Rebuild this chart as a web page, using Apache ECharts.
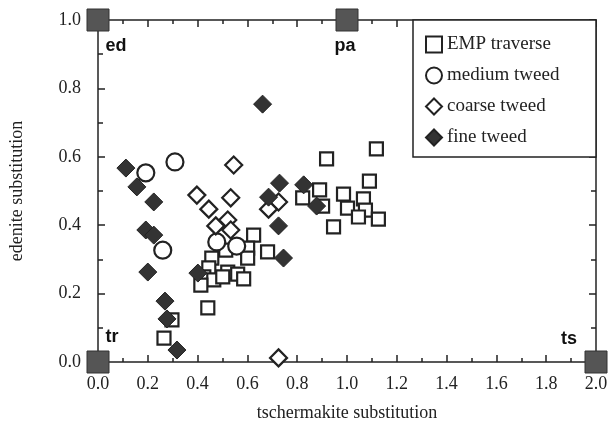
<!DOCTYPE html>
<html>
<head>
<meta charset="utf-8">
<script src="https://cdn.jsdelivr.net/npm/echarts@6/dist/echarts.min.js"></script>
<style>html,body{margin:0;padding:0;background:#fff;}#c{width:615px;height:434px;}</style>
</head>
<body>
<div id="c"></div>
<script>
const xTicks = [0.0,0.2,0.4,0.6,0.8,1.0,1.2,1.4,1.6,1.8,2.0];
const yTicks = [0.0,0.2,0.4,0.6,0.8,1.0];

const empTraverse = [
  [1.118,0.623],[0.918,0.594],[1.090,0.529],[0.890,0.503],[0.986,0.491],[1.066,0.477],
  [0.822,0.480],[0.902,0.456],[1.002,0.450],[1.074,0.444],[1.046,0.424],[1.126,0.418],[0.946,0.395],
  [0.681,0.322],[0.625,0.371],[0.601,0.333],[0.601,0.304],[0.513,0.327],[0.457,0.304],
  [0.445,0.275],[0.521,0.263],[0.561,0.257],[0.585,0.243],[0.425,0.249],[0.465,0.240],
  [0.413,0.225],[0.501,0.249],[0.441,0.158],[0.297,0.123],[0.265,0.070]
];
const mediumTweed = [
  [0.192,0.553],[0.309,0.585],[0.260,0.327],[0.477,0.351],[0.557,0.339]
];
const coarseTweed = [
  [0.545,0.576],[0.397,0.488],[0.533,0.480],[0.445,0.447],[0.473,0.398],[0.521,0.415],
  [0.533,0.386],[0.725,0.468],[0.685,0.447],[0.725,0.012]
];
const fineTweed = [
  [0.112,0.567],[0.156,0.512],[0.224,0.468],[0.192,0.386],[0.224,0.371],[0.200,0.263],
  [0.269,0.178],[0.277,0.126],[0.317,0.035],[0.401,0.260],[0.661,0.754],[0.685,0.482],
  [0.729,0.523],[0.725,0.398],[0.745,0.304],[0.826,0.518],[0.878,0.456]
];
const endMemberNames = ['ed','pa','tr','ts'];
const endMemberValues = [[0,1],[1,1],[0,0],[2,0]];

const serif = '"Liberation Serif", "DejaVu Serif", serif';
const ink = '#222';
const labelOffsets = {ed:[18,26], pa:[-2,26], tr:[14,-25], ts:[-27,-23]};

const endMembers = endMemberNames.map((n,i)=>({
  name:n, value:endMemberValues[i], label:{offset:labelOffsets[n]}
}));

const chart = echarts.init(document.getElementById('c'));
const commonAxisLine = {show:true, onZero:false, lineStyle:{color:ink, width:1.5}};
chart.setOption({
  animation:false,
  backgroundColor:'#fff',
  grid:{left:97, right:19, top:20, bottom:72, containLabel:false},
  xAxis:[{
    type:'value', min:0, max:2, interval:0.2, position:'bottom',
    axisLine:commonAxisLine,
    axisTick:{show:true, inside:true, length:7, lineStyle:{color:ink, width:1.5}},
    minorTick:{show:true, splitNumber:2, length:4, lineStyle:{color:ink, width:1.5}},
    splitLine:{show:false},
    axisLabel:{color:ink, fontFamily:serif, fontSize:18, margin:13,
      formatter:v=>{const t=xTicks.find(a=>Math.abs(a-v)<1e-6); return t===undefined?'':t.toFixed(1);}},
    name:'tschermakite substitution', nameLocation:'middle', nameGap:42,
    nameTextStyle:{color:ink, fontFamily:serif, fontSize:18}
  },{
    type:'value', min:0, max:2, interval:0.2, position:'top',
    axisLine:commonAxisLine,
    axisTick:{show:true, inside:true, length:7, lineStyle:{color:ink, width:1.5}},
    minorTick:{show:true, splitNumber:2, length:4, lineStyle:{color:ink, width:1.5}},
    splitLine:{show:false}, axisLabel:{show:false}
  }],
  yAxis:[{
    type:'value', min:0, max:1, interval:0.2, position:'left',
    axisLine:commonAxisLine,
    axisTick:{show:true, inside:true, length:7, lineStyle:{color:ink, width:1.5}},
    minorTick:{show:true, splitNumber:2, length:5, lineStyle:{color:ink, width:1.5}},
    splitLine:{show:false},
    axisLabel:{color:ink, fontFamily:serif, fontSize:18, margin:17,
      formatter:v=>{const t=yTicks.find(a=>Math.abs(a-v)<1e-6); return t===undefined?'':t.toFixed(1);}},
    name:'edenite substitution', nameLocation:'middle', nameGap:72, nameRotate:90,
    nameTextStyle:{color:ink, fontFamily:serif, fontSize:18}
  },{
    type:'value', min:0, max:1, interval:0.2, position:'right',
    axisLine:commonAxisLine,
    axisTick:{show:true, inside:true, length:7, lineStyle:{color:ink, width:1.5}},
    minorTick:{show:true, splitNumber:2, length:5, lineStyle:{color:ink, width:1.5}},
    splitLine:{show:false}, axisLabel:{show:false}
  }],
  legend:{
    orient:'vertical', left:420, top:30, itemGap:12, itemWidth:16, itemHeight:16,
    textStyle:{color:ink, fontFamily:serif, fontSize:19},
    data:['EMP traverse','medium tweed','coarse tweed','fine tweed']
  },
  graphic:[{
    type:'rect', shape:{x:413, y:20, width:183, height:137},
    style:{fill:'#fff', stroke:ink, lineWidth:1.5}, z:1
  }],
  series:[
    {name:'EMP traverse', type:'scatter', data:empTraverse, symbol:'rect', symbolSize:13,
      itemStyle:{color:'#fff', borderColor:'#222', borderWidth:2.2, opacity:1}, z:3},
    {name:'medium tweed', type:'scatter', data:mediumTweed, symbol:'circle', symbolSize:17,
      itemStyle:{color:'#fff', borderColor:'#222', borderWidth:2.2, opacity:1}, z:3},
    {name:'coarse tweed', type:'scatter', data:coarseTweed, symbol:'diamond', symbolSize:17,
      itemStyle:{color:'#fff', borderColor:'#222', borderWidth:2.2, opacity:1}, z:3},
    {name:'fine tweed', type:'scatter', data:fineTweed, symbol:'diamond', symbolSize:18,
      itemStyle:{color:'#333', borderColor:'#222', borderWidth:1, opacity:1}, z:4},
    {name:'end members', type:'scatter', data:endMembers, symbol:'rect', symbolSize:22, clip:false,
      itemStyle:{color:'#555', borderColor:'#333', borderWidth:1, opacity:1}, z:6,
      label:{show:true, formatter:p=>p.name, position:'inside', color:'#111',
        fontFamily:'"Liberation Sans", Arial, sans-serif', fontWeight:'bold', fontSize:18}}
  ]
});
</script>
</body>
</html>
